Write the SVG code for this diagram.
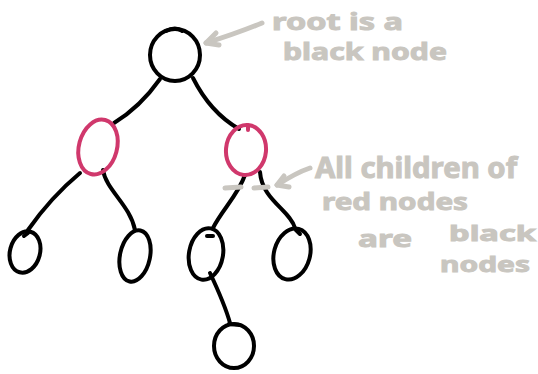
<svg xmlns="http://www.w3.org/2000/svg" width="538" height="374" viewBox="0 0 538 374">
  <defs>
    <style>
      .blk { fill: none; stroke: #000; stroke-width: 4; stroke-linecap: round; stroke-linejoin: round; }
      .red { fill: none; stroke: #d0386c; stroke-width: 4; stroke-linecap: round; }
      .edge { fill: none; stroke: #000; stroke-width: 4; stroke-linecap: round; }
      .note { fill: none; stroke: #c9c6c0; stroke-width: 5; stroke-linecap: round; stroke-linejoin: round; }
      .txt { font-family: "Noto Sans", "DejaVu Sans", sans-serif; font-weight: bold; fill: #c9c6c0; stroke: #c9c6c0; stroke-width: 1; }
    </style>
  </defs>
  <rect width="538" height="374" fill="#fff"/>

  <!-- connectors between nodes -->
  <g id="edges">
    <path class="edge" d="M160 79 C148 96 132 112 114 123"/>
    <path class="edge" d="M193 78 C204 100 220 118 239 129"/>
    <path class="edge" d="M80 173 C62 188 42 210 28 230"/>
    <path class="edge" d="M103 170 C106 190 130 205 135 230"/>
    <path class="edge" d="M245 175 C238 195 222 210 213 228"/>
    <path class="edge" d="M260 172 C262 200 290 210 295 228"/>
    <path class="edge" d="M210 273 C218 290 225 305 230 323"/>
  </g>

  <!-- tree nodes -->
  <g id="root">
    <ellipse class="blk" cx="175" cy="55" rx="25" ry="26"/>
    <path class="blk" d="M166 31 C172 28 178 28 182 31"/>
  </g>
  <g id="red-left">
    <ellipse class="red" cx="98" cy="147" rx="19" ry="28" transform="rotate(15 98 147)"/>
  </g>
  <g id="red-right">
    <ellipse class="red" cx="246" cy="150" rx="20" ry="25" transform="rotate(5 246 150)"/>
    <path class="red" d="M248 126 L248 130"/>
  </g>
  <g id="leaf-ll">
    <ellipse class="blk" cx="25" cy="252" rx="15" ry="21" transform="rotate(15 25 252)"/>
    <path class="blk" d="M24 236 L28 233"/>
  </g>
  <g id="leaf-lr">
    <ellipse class="blk" cx="135" cy="256" rx="15" ry="26" transform="rotate(12 135 256)"/>
  </g>
  <g id="leaf-rl">
    <ellipse class="blk" cx="206" cy="254" rx="17" ry="26" transform="rotate(10 206 254)"/>
    <path class="blk" d="M207 236 L213 236"/>
  </g>
  <g id="leaf-rr">
    <ellipse class="blk" cx="292" cy="254" rx="18" ry="26" transform="rotate(15 292 254)"/>
    <path class="blk" d="M296 230 L300 234"/>
  </g>
  <g id="leaf-bottom">
    <ellipse class="blk" cx="234" cy="346" rx="20" ry="22"/>
    <path class="blk" d="M229 324 L240 325"/>
  </g>

  <!-- annotations -->
  <g id="note-root">
    <path class="note" d="M262 23 C245 30 225 37 206 43"/>
    <path class="note" d="M216 33 L206 43 L219 45"/>
    <text class="txt" x="272" y="30" font-size="24" textLength="131" lengthAdjust="spacingAndGlyphs">root is a</text>
    <text class="txt" x="283" y="60" font-size="24" textLength="164" lengthAdjust="spacingAndGlyphs">black node</text>
  </g>
  <g id="note-red">
    <path class="note" d="M225 188 L241 187 M254 188 L268 187"/>
    <path class="note" d="M310 168 C298 172 288 178 277 185"/>
    <path class="note" d="M284 176 L277 185 L289 187"/>
    <text class="txt" x="315" y="178" font-size="28" textLength="202" lengthAdjust="spacingAndGlyphs">All children of</text>
    <text class="txt" x="322" y="210" font-size="24" textLength="146" lengthAdjust="spacingAndGlyphs">red nodes</text>
    <text class="txt" x="358" y="247" font-size="24" textLength="54" lengthAdjust="spacingAndGlyphs">are</text>
    <text class="txt" x="449" y="241" font-size="22" textLength="87" lengthAdjust="spacingAndGlyphs">black</text>
    <text class="txt" x="440" y="272" font-size="22" textLength="90" lengthAdjust="spacingAndGlyphs">nodes</text>
  </g>
</svg>
